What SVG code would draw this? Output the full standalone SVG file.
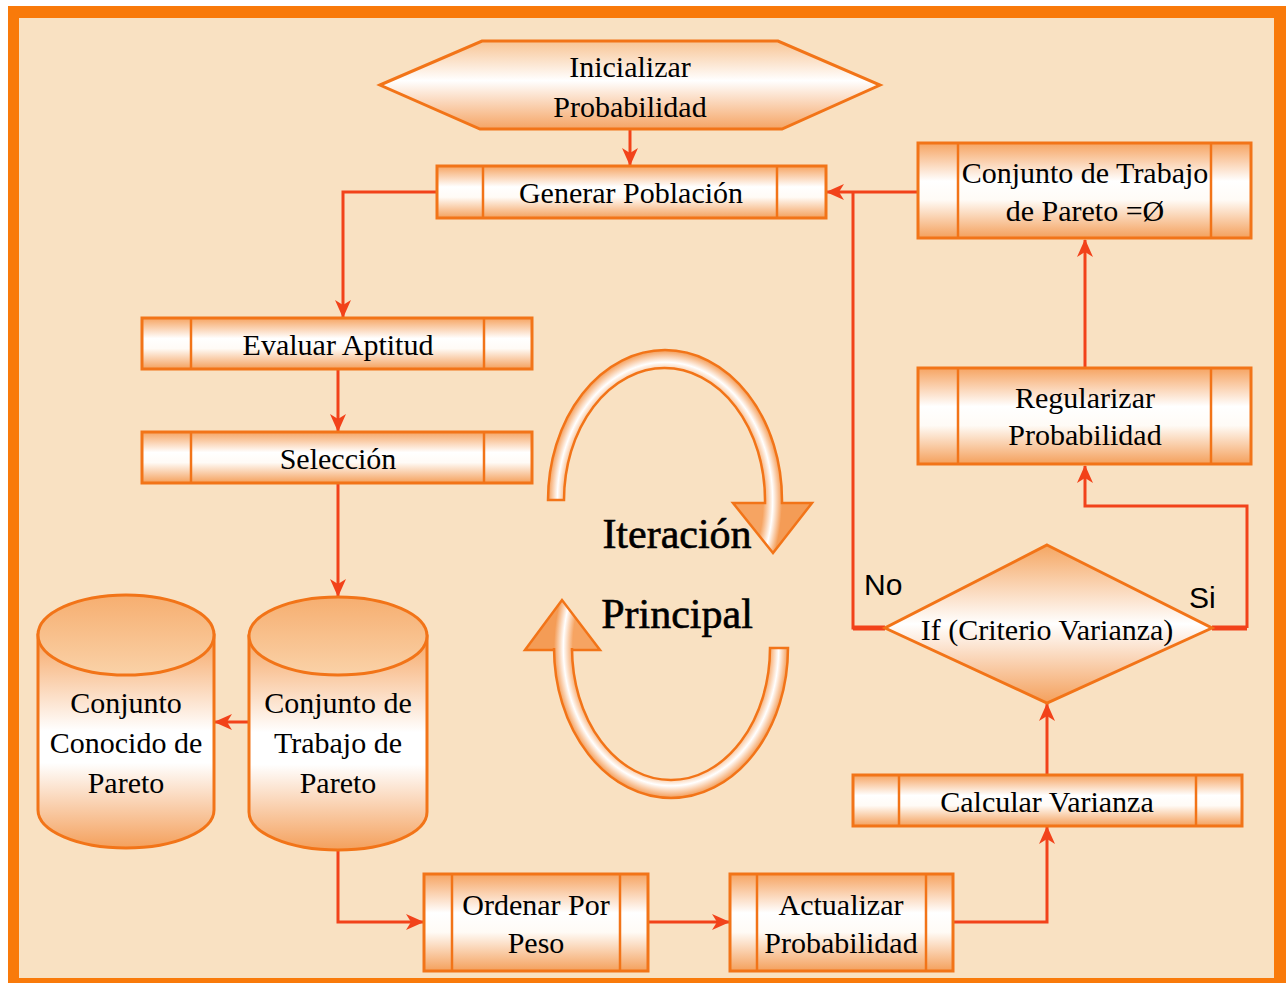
<svg xmlns="http://www.w3.org/2000/svg" width="1286" height="983" viewBox="0 0 1286 983">
  <defs>
    <style>
      .box { fill: url(#gBox); stroke: #F27418; stroke-width: 3; }
      .div { stroke: #F27418; stroke-width: 2.5; fill: none; }
      .lbl { font-family: "Liberation Serif", "Times New Roman", serif; font-size: 30px; fill: #000; text-anchor: middle; }
      .big { font-family: "Liberation Serif", "Times New Roman", serif; font-size: 42px; fill: #000; stroke: #000; stroke-width: 0.6; text-anchor: middle; }
      .yn { font-family: "Liberation Sans", Arial, sans-serif; font-size: 30px; fill: #000; }
      .con { fill: none; stroke: #F2421A; stroke-width: 3; }
      .conA { fill: none; stroke: #F2421A; stroke-width: 3; marker-end: url(#arrow); }
      .cyl { stroke: #F27418; stroke-width: 3; }
      .loop { stroke: #F27418; stroke-width: 2.5; }
    </style>
    <linearGradient id="gBox" x1="0" y1="0" x2="0" y2="1">
      <stop offset="0" stop-color="#F6A462"/>
      <stop offset="0.4" stop-color="#FFFFFF"/>
      <stop offset="0.6" stop-color="#FFFBF6"/>
      <stop offset="1" stop-color="#F4A05C"/>
    </linearGradient>
    <linearGradient id="gHex" x1="0" y1="0" x2="0" y2="1">
      <stop offset="0" stop-color="#F8C494"/>
      <stop offset="0.45" stop-color="#FFFFFF"/>
      <stop offset="1" stop-color="#F5A464"/>
    </linearGradient>
    <linearGradient id="gDia" x1="0" y1="0" x2="0" y2="1">
      <stop offset="0" stop-color="#F5A662"/>
      <stop offset="0.5" stop-color="#FFFFFF"/>
      <stop offset="1" stop-color="#F4A05C"/>
    </linearGradient>
    <linearGradient id="gCylBody" x1="0" y1="0" x2="0" y2="1">
      <stop offset="0" stop-color="#F6A664"/>
      <stop offset="0.45" stop-color="#FFFFFF"/>
      <stop offset="0.6" stop-color="#FFFFFF"/>
      <stop offset="1" stop-color="#F4A05C"/>
    </linearGradient>
    <linearGradient id="gCylTop" x1="0" y1="0" x2="0" y2="1">
      <stop offset="0" stop-color="#F6AE70"/>
      <stop offset="1" stop-color="#FAD2A8"/>
    </linearGradient>
    <radialGradient id="gLoopUp" gradientUnits="userSpaceOnUse" cx="665" cy="500" r="117" gradientTransform="translate(665 500) scale(1 1.28) translate(-665 -500)">
      <stop offset="0.84" stop-color="#F6A462"/>
      <stop offset="0.92" stop-color="#FFFFFF"/>
      <stop offset="1" stop-color="#F49C56"/>
    </radialGradient>
    <radialGradient id="gLoopDn" gradientUnits="userSpaceOnUse" cx="671" cy="648" r="117" gradientTransform="translate(671 648) scale(1 1.28) translate(-671 -648)">
      <stop offset="0.84" stop-color="#F6A462"/>
      <stop offset="0.92" stop-color="#FFFFFF"/>
      <stop offset="1" stop-color="#F49C56"/>
    </radialGradient>
    <marker id="arrow" markerUnits="userSpaceOnUse" markerWidth="18" markerHeight="18" viewBox="0 0 18 18" refX="17" refY="9" orient="auto">
      <path d="M0,1 L18,9 L0,17 L5,9 Z" fill="#F2421A"/>
    </marker>
  </defs>

  <!-- frame -->
  <rect x="0" y="0" width="1286" height="983" fill="#FFFFFF"/>
  <rect x="8" y="6" width="1278" height="977" fill="#F97A0A"/>
  <rect x="19" y="18" width="1255" height="960" fill="#F9E1C2"/>

  <!-- connectors -->
  <g id="connectors">
    <path class="conA" d="M630,129 L630,165"/>
    <path class="conA" d="M437,192 L343,192 L343,317"/>
    <path class="conA" d="M338,369 L338,431"/>
    <path class="conA" d="M338,483 L338,596"/>
    <path class="conA" d="M249,722 L215,722"/>
    <path class="conA" d="M338,850 L338,922 L423,922"/>
    <path class="conA" d="M648,922 L729,922"/>
    <path class="conA" d="M953,922 L1047,922 L1047,827"/>
    <path class="conA" d="M1047,775 L1047,704"/>
    <path class="con" d="M1212,628 L1247,628"/>
    <path class="conA" d="M1247,628 L1247,506 L1085,506 L1085,466"/>
    <path class="conA" d="M1085,368 L1085,240"/>
    <path class="conA" d="M918,192 L827,192"/>
    <path class="con" d="M885,628 L853,628 L853,192"/>
    <path d="M1212,628 L1247,628 M885,628 L853,628" fill="none" stroke="#F2421A" stroke-width="5"/>
  </g>

  <!-- start -->
  <g id="inicializar">
    <polygon points="380,85 482,41 778,41 880,85 782,129 480,129" fill="url(#gHex)" stroke="#F27418" stroke-width="3"/>
    <text class="lbl" x="630" y="77">Inicializar</text>
    <text class="lbl" x="630" y="117">Probabilidad</text>
  </g>

  <g id="generar">
    <rect class="box" x="437" y="166" width="389" height="52"/>
    <line class="div" x1="483" y1="166" x2="483" y2="218"/>
    <line class="div" x1="777" y1="166" x2="777" y2="218"/>
    <text class="lbl" x="631" y="203">Generar Población</text>
  </g>

  <g id="evaluar">
    <rect class="box" x="142" y="318" width="390" height="51"/>
    <line class="div" x1="191" y1="318" x2="191" y2="369"/>
    <line class="div" x1="484" y1="318" x2="484" y2="369"/>
    <text class="lbl" x="338" y="355">Evaluar Aptitud</text>
  </g>

  <g id="seleccion">
    <rect class="box" x="142" y="432" width="390" height="51"/>
    <line class="div" x1="191" y1="432" x2="191" y2="483"/>
    <line class="div" x1="484" y1="432" x2="484" y2="483"/>
    <text class="lbl" x="338" y="469">Selección</text>
  </g>

  <g id="conjunto-conocido">
    <path class="cyl" fill="url(#gCylBody)" d="M38,635 L38,810 A88,38 0 0 0 214,810 L214,635 Z"/>
    <ellipse class="cyl" fill="url(#gCylTop)" cx="126" cy="635" rx="88" ry="40"/>
    <text class="lbl" x="126" y="713">Conjunto</text>
    <text class="lbl" x="126" y="753">Conocido de</text>
    <text class="lbl" x="126" y="793">Pareto</text>
  </g>

  <g id="conjunto-trabajo">
    <path class="cyl" fill="url(#gCylBody)" d="M249,636 L249,812 A89,38 0 0 0 427,812 L427,636 Z"/>
    <ellipse class="cyl" fill="url(#gCylTop)" cx="338" cy="636" rx="89" ry="39"/>
    <text class="lbl" x="338" y="713">Conjunto de</text>
    <text class="lbl" x="338" y="753">Trabajo de</text>
    <text class="lbl" x="338" y="793">Pareto</text>
  </g>

  <g id="ordenar">
    <rect class="box" x="424" y="874" width="224" height="97"/>
    <line class="div" x1="452" y1="874" x2="452" y2="971"/>
    <line class="div" x1="620" y1="874" x2="620" y2="971"/>
    <text class="lbl" x="536" y="915">Ordenar Por</text>
    <text class="lbl" x="536" y="953">Peso</text>
  </g>

  <g id="actualizar">
    <rect class="box" x="730" y="874" width="223" height="97"/>
    <line class="div" x1="757" y1="874" x2="757" y2="971"/>
    <line class="div" x1="926" y1="874" x2="926" y2="971"/>
    <text class="lbl" x="841" y="915">Actualizar</text>
    <text class="lbl" x="841" y="953">Probabilidad</text>
  </g>

  <g id="calcular">
    <rect class="box" x="853" y="775" width="389" height="51"/>
    <line class="div" x1="899" y1="775" x2="899" y2="826"/>
    <line class="div" x1="1196" y1="775" x2="1196" y2="826"/>
    <text class="lbl" x="1047" y="812">Calcular Varianza</text>
  </g>

  <g id="criterio">
    <polygon points="1047,545 1212,628 1047,703 885,628" fill="url(#gDia)" stroke="#F27418" stroke-width="3"/>
    <text class="lbl" x="1047" y="640">If (Criterio Varianza)</text>
    <text class="yn" x="864" y="595">No</text>
    <text class="yn" x="1189" y="608">Si</text>
  </g>

  <g id="regularizar">
    <rect class="box" x="918" y="368" width="333" height="96"/>
    <line class="div" x1="958" y1="368" x2="958" y2="464"/>
    <line class="div" x1="1211" y1="368" x2="1211" y2="464"/>
    <text class="lbl" x="1085" y="408">Regularizar</text>
    <text class="lbl" x="1085" y="445">Probabilidad</text>
  </g>

  <g id="vaciar">
    <rect class="box" x="918" y="143" width="333" height="95"/>
    <line class="div" x1="958" y1="143" x2="958" y2="238"/>
    <line class="div" x1="1211" y1="143" x2="1211" y2="238"/>
    <text class="lbl" x="1085" y="183">Conjunto de Trabajo</text>
    <text class="lbl" x="1085" y="221">de Pareto =Ø</text>
  </g>

  <!-- main iteration loop symbol -->
  <g id="iteracion">
    <path class="loop" fill="url(#gLoopUp)" d="M548,500 A117,150 0 0 1 782,500 L782,503 L812,503 L773,553 L733,503 L765,503 L765,500 A100.5,132 0 0 0 564,500 Z"/>
    <path class="loop" fill="url(#gLoopDn)" d="M788,648 A117,150 0 0 1 554,648 L554,650 L525,650 L562,600 L600,650 L572,650 L572,648 A99,132 0 0 0 770,648 Z"/>
    <text class="big" x="677" y="548">Iteración</text>
    <text class="big" x="677" y="628">Principal</text>
  </g>
</svg>
